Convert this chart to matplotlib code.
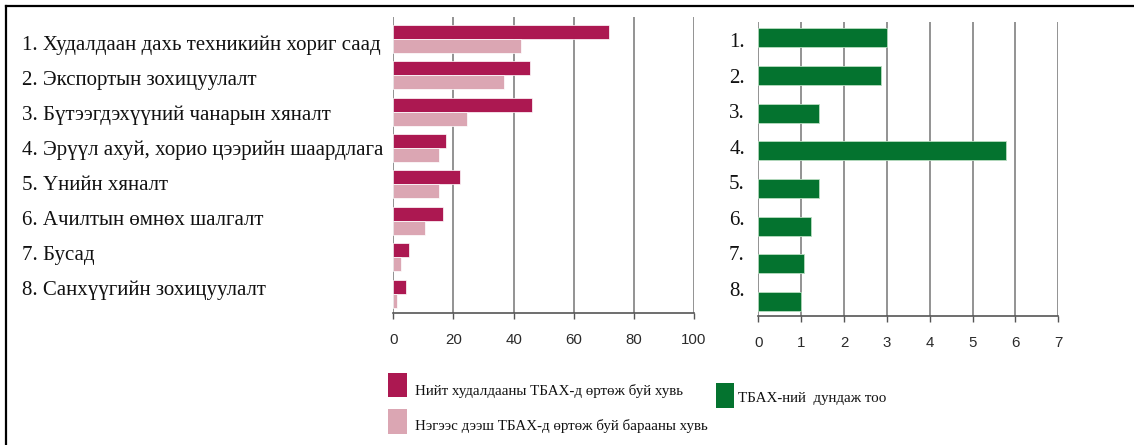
import matplotlib
matplotlib.use("Agg")
import matplotlib.pyplot as plt
from matplotlib.lines import Line2D
from matplotlib.patches import Rectangle

categories = [
    "1. Худалдаан дахь техникийн хориг саад",
    "2. Экспортын зохицуулалт",
    "3. Бүтээгдэхүүний чанарын хяналт",
    "4. Эрүүл ахуй, хорио цээрийн шаардлага",
    "5. Үнийн хяналт",
    "6. Ачилтын өмнөх шалгалт",
    "7. Бусад",
    "8. Санхүүгийн зохицуулалт",
]
short_labels = ["1.", "2.", "3.", "4.", "5.", "6.", "7.", "8."]
share_total = [71.7, 45.5, 46.1, 17.6, 22.1, 16.6, 5.1, 4.3]
share_multi = [42.4, 36.9, 24.4, 15.3, 15.3, 10.5, 2.7, 1.2]
avg_ntm = [3.0, 2.86, 1.41, 5.77, 1.41, 1.22, 1.06, 1.0]
left_ticks = [0, 20, 40, 60, 80, 100]
right_ticks = [0, 1, 2, 3, 4, 5, 6, 7]
legend_labels = [
    "Нийт худалдааны ТБАХ-д өртөж буй хувь",
    "Нэгээс дээш ТБАХ-д өртөж буй барааны хувь",
    "ТБАХ-ний  дундаж тоо",
]

c_dark = "#AC1851"
c_light = "#DBA6B3"
c_green = "#04732F"
c_grid = "#8a8a8a"
serif = ["Liberation Serif", "DejaVu Serif"]
sans = ["Liberation Sans", "DejaVu Sans"]

W, H = 1134, 445
fig = plt.figure(figsize=(W / 100, H / 100), dpi=100)

def fx(px):
    return px / W

def fy(py):
    return 1 - py / H

def style_axes(ax, ticks, xmax):
    ax.set_xlim(0, xmax)
    ax.set_xticks(ticks)
    ax.set_xticklabels([str(t) for t in ticks], fontfamily=sans, fontsize=10.8, color="#2a2a2a")
    ax.set_yticks([])
    for s in ["top", "right", "left"]:
        ax.spines[s].set_visible(False)
    ax.spines["bottom"].set_color("#555555")
    ax.spines["bottom"].set_linewidth(1.2)
    ax.tick_params(axis="x", length=4, width=1, color="#555555", pad=10.5)
    ax.set_axisbelow(True)
    ax.grid(axis="x", color=c_grid, linewidth=1.3)
    ax.grid(axis="y", visible=False)

n = len(categories)
ys = list(range(n))

# Left chart
ax1 = fig.add_axes([fx(393.3), fy(313), 300.7 / W, 296 / H])
h1 = 0.385
ax1.barh([y - h1 / 2 for y in ys], share_total, height=h1, color=c_dark, edgecolor="white", linewidth=0.5)
ax1.barh([y + h1 / 2 for y in ys], share_multi, height=h1, color=c_light, edgecolor="white", linewidth=0.5)
ax1.set_ylim(7.53, -0.6)
style_axes(ax1, left_ticks, 100)

# Right chart
ax2 = fig.add_axes([fx(758.3), fy(316), 300 / W, 294.3 / H])
ax2.barh(ys, avg_ntm, height=0.505, color=c_green, edgecolor="#b8dcc0", linewidth=0.6)
ax2.set_ylim(7.39, -0.43)
style_axes(ax2, right_ticks, 7)

# Category labels (text rows, baselines in pixels)
for i, lab in enumerate(categories):
    fig.text(fx(22), fy(50 + 35 * i), lab, fontfamily=serif, fontsize=15,
             va="baseline", ha="left", color="#111111")

for i, lab in enumerate(short_labels):
    fig.text(fx(737), fy(47.3 + 35.5 * i), lab, fontfamily=serif, fontsize=15,
             va="baseline", ha="center", color="#111111")

# Legend
def legend_item(x0, y0, w, h, color, text, tx, base):
    fig.patches.append(Rectangle((fx(x0), fy(y0 + h)), w / W, h / H,
                                 transform=fig.transFigure, facecolor=color, edgecolor="none"))
    fig.text(fx(tx), fy(base), text, fontfamily=serif, fontsize=10.8,
             va="baseline", ha="left", color="#111111")

legend_item(388, 373, 19, 24, c_dark, legend_labels[0], 415, 395)
legend_item(388, 409, 19, 25, c_light, legend_labels[1], 415, 430)
legend_item(716, 383, 18, 25, c_green, legend_labels[2], 738, 402)

# Frame (top and left lines)
fig.add_artist(Line2D([fx(6), 1], [fy(6), fy(6)], transform=fig.transFigure, color="black", linewidth=1.6))
fig.add_artist(Line2D([fx(6), fx(6)], [0, fy(6)], transform=fig.transFigure, color="black", linewidth=1.6))

fig.savefig("out.png", dpi=100, facecolor="white")
